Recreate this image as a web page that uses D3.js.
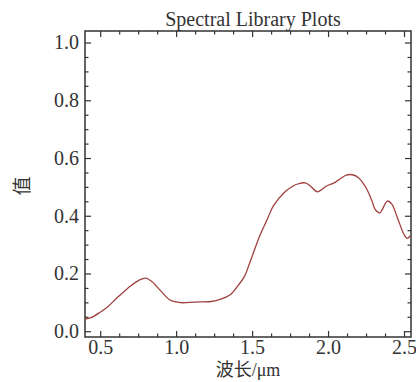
<!DOCTYPE html>
<html><head><meta charset="utf-8">
<script src="https://cdn.jsdelivr.net/npm/d3@7/dist/d3.min.js"></script>
<style>
html,body{margin:0;padding:0;background:#fff;}
svg{display:block;}
text{font-family:"Liberation Serif","Noto Sans CJK SC",serif;fill:#333;}
</style></head>
<body>
<svg id="chart" width="416" height="382"></svg>
<script>
const wavelength = [0.40,0.44,0.50,0.55,0.61,0.70,0.76,0.80,0.84,0.90,0.96,1.03,1.12,1.23,1.29,1.36,1.41,1.45,1.49,1.55,1.60,1.64,1.71,1.77,1.80,1.85,1.88,1.93,1.99,2.04,2.08,2.12,2.16,2.20,2.25,2.29,2.31,2.34,2.36,2.39,2.42,2.46,2.50,2.52,2.54];
const value = [0.042,0.047,0.066,0.085,0.115,0.157,0.178,0.184,0.172,0.139,0.108,0.099,0.101,0.103,0.110,0.128,0.160,0.190,0.245,0.330,0.388,0.434,0.480,0.503,0.510,0.514,0.505,0.483,0.503,0.514,0.528,0.541,0.542,0.532,0.497,0.450,0.422,0.410,0.425,0.451,0.440,0.388,0.335,0.322,0.330];
const xTicks = [0.5,1.0,1.5,2.0,2.5];
const yTicks = [0.0,0.2,0.4,0.6,0.8,1.0];
const titleText = "Spectral Library Plots";
const xLabel = "波长/μm";
const yLabel = "值";

const L=85,R=411,T=31,B=337;
const svg=d3.select("#chart");
const x=d3.scaleLinear().domain([0.4,2.546]).range([L,R]);
const y=d3.scaleLinear().domain([-0.02,1.04]).range([B,T]);

const xMinor=d3.range(0.5,2.55,0.125).filter(v=>!xTicks.some(t=>Math.abs(t-v)<1e-6));
const yMinor=d3.range(0,1.04,0.05).filter(v=>!yTicks.some(t=>Math.abs(t-v)<1e-6));

function axisGroup(axis, tf){
  const g=svg.append("g").attr("transform",tf).call(axis);
  g.select(".domain").remove();
  g.selectAll(".tick line").attr("stroke","#333").attr("stroke-width",1.2);
  return g;
}
const fs="20px";
// bottom
const gb=axisGroup(d3.axisBottom(x).tickValues(xTicks).tickFormat(d3.format(".1f")).tickSize(-6).tickPadding(10),`translate(0,${B})`);
gb.selectAll("text").attr("font-size",fs).attr("fill","#333").attr("dy","0.75em").attr("y",2);
axisGroup(d3.axisBottom(x).tickValues(xMinor).tickFormat("").tickSize(-3.5),`translate(0,${B})`);
// top
axisGroup(d3.axisTop(x).tickValues(xTicks).tickFormat("").tickSize(-6),`translate(0,${T})`);
axisGroup(d3.axisTop(x).tickValues(xMinor).tickFormat("").tickSize(-3.5),`translate(0,${T})`);
// left
const gl=axisGroup(d3.axisLeft(y).tickValues(yTicks).tickFormat(d3.format(".1f")).tickSize(-6).tickPadding(8),`translate(${L},0)`);
gl.selectAll("text").attr("font-size",fs).attr("fill","#333").attr("x",-6);
axisGroup(d3.axisLeft(y).tickValues(yMinor).tickFormat("").tickSize(-3.5),`translate(${L},0)`);
// right
axisGroup(d3.axisRight(y).tickValues(yTicks).tickFormat("").tickSize(-6),`translate(${R},0)`);
axisGroup(d3.axisRight(y).tickValues(yMinor).tickFormat("").tickSize(-3.5),`translate(${R},0)`);

svg.append("rect").attr("x",L).attr("y",T).attr("width",R-L).attr("height",B-T)
  .attr("fill","none").attr("stroke","#333").attr("stroke-width",1.5);

const data=wavelength.map((w,i)=>[w,value[i]]);
const line=d3.line().x(d=>x(d[0])).y(d=>y(d[1])).curve(d3.curveCatmullRom.alpha(0.5));
svg.append("path").datum(data).attr("d",line).attr("fill","none")
  .attr("stroke","#a04040").attr("stroke-width",1.3);

svg.append("text").attr("x",253).attr("y",26).attr("text-anchor","middle").attr("font-size","20px").text(titleText);
svg.append("text").attr("x",(L+R)/2).attr("y",376).attr("text-anchor","middle").attr("font-size","18px").text(xLabel);
svg.append("text").attr("transform","translate(29,186) rotate(-90)").attr("text-anchor","middle").attr("font-size","19px").text(yLabel);
</script>
</body></html>
